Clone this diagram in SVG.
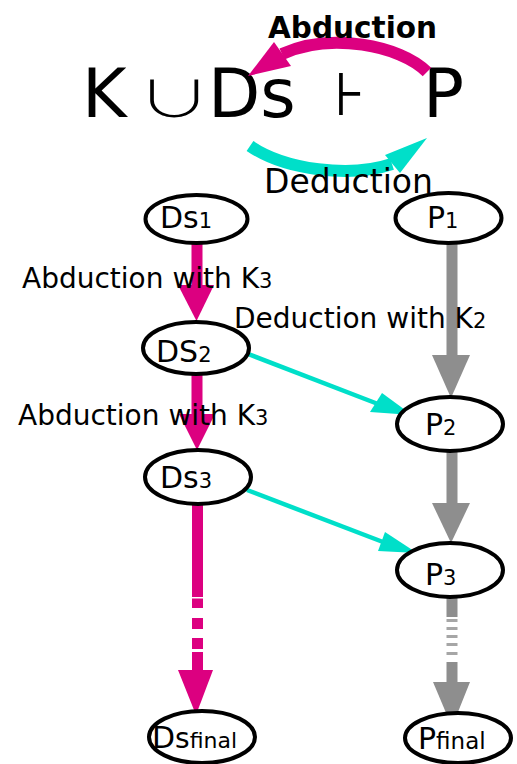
<svg xmlns="http://www.w3.org/2000/svg" width="517" height="764" viewBox="0 0 517 764">
<style>
text{font-family:"DejaVu Sans","Liberation Sans",sans-serif;fill:#000}
.big{font-size:68px}
.lbl{font-size:28px}
.sub{font-size:21px}
.nd{font-size:30px}
.node ellipse{fill:#fff;stroke:#000;stroke-width:4}
.mag{fill:#DC0080}
.magS{fill:none;stroke:#DC0080;stroke-width:12}
.cyan{fill:#00DFC9}
.cyanS{fill:none;stroke:#00DFC9;stroke-width:12}
.cyanL{fill:none;stroke:#00DFC9;stroke-width:4.5}
.gray{fill:#8E8E8E}
.grayL{fill:#A6A6A6}
</style>
<rect width="517" height="764" fill="#fff"/>
<g id="formula">
<text class="big" x="82" y="117">K</text>
<text x="0" y="0" transform="translate(137,117) scale(1.2,0.8)" style="font-family:'Noto Sans CJK JP','Noto Sans CJK SC',sans-serif;font-size:62px;font-weight:300">∪</text>
<text class="big" x="208" y="117">Ds</text>
<text x="334" y="115" style="font-size:60px">⊦</text>
<text class="big" x="423" y="117">P</text>
</g>
<g id="connectors">
<path class="magS" d="M427,72 C400,45 330,32 282,54"/>
<polygon class="mag" points="248,76 274,42 291,66"/>
<path class="cyanS" d="M250,146 C285,170 350,178 392,164"/>
<polygon class="cyan" points="427,138 385,155 400,173"/>
<rect class="mag" x="191.5" y="243" width="11" height="44"/>
<polygon class="mag" points="178,285 214,285 196.5,321"/>
<rect class="mag" x="191.5" y="374" width="11" height="42"/>
<polygon class="mag" points="179,414 215,414 197,450"/>
<rect class="mag" x="192" y="505" width="11" height="92"/>
<rect class="mag" x="192" y="598.5" width="11" height="9.5"/>
<rect class="mag" x="192" y="618" width="11" height="11"/>
<rect class="mag" x="192" y="638" width="11" height="11"/>
<rect class="mag" x="192" y="652" width="11" height="20"/>
<polygon class="mag" points="178,670 213,670 196,715"/>
<rect class="gray" x="446.5" y="243" width="11" height="114"/>
<polygon class="gray" points="432,355 470,355 451,398"/>
<rect class="gray" x="446.5" y="451" width="11" height="54"/>
<polygon class="gray" points="432,503 470,503 451,543"/>
<rect class="gray" x="446.5" y="596" width="11" height="21"/>
<rect class="grayL" x="446.5" y="619" width="11" height="3"/>
<rect class="grayL" x="446.5" y="627" width="11" height="3"/>
<rect class="grayL" x="446.5" y="635" width="11" height="3"/>
<rect class="grayL" x="446.5" y="643" width="11" height="3"/>
<rect class="grayL" x="446.5" y="652" width="11" height="3"/>
<rect class="gray" x="446.5" y="662" width="11" height="22"/>
<polygon class="gray" points="433,682 470,682 452,727"/>
<path class="cyanL" d="M243,352 L378,404"/>
<polygon class="cyan" points="412,415 382,393 370,412"/>
<path class="cyanL" d="M247,490 L383,542"/>
<polygon class="cyan" points="417,553 385,532 378,551"/>
</g>
<g id="labels">
<text x="268" y="38" style="font-size:29.5px;font-weight:bold">Abduction</text>
<text x="264" y="193" style="font-size:33px">Deduction</text>
<text class="lbl" x="22" y="288">Abduction with K<tspan class="sub">3</tspan></text>
<text class="lbl" x="234" y="328">Deduction with K<tspan class="sub">2</tspan></text>
<text class="lbl" x="18" y="425">Abduction with K<tspan class="sub">3</tspan></text>
</g>
<g id="Ds1" class="node"><ellipse cx="196.5" cy="219" rx="51" ry="24"/><text class="nd" x="160" y="228">Ds<tspan class="sub">1</tspan></text></g>
<g id="P1" class="node"><ellipse cx="448.5" cy="218" rx="53" ry="25"/><text class="nd" x="427" y="228">P<tspan class="sub">1</tspan></text></g>
<g id="Ds2" class="node"><ellipse cx="196" cy="348" rx="53" ry="26"/><text class="nd" x="156" y="362">DS<tspan class="sub">2</tspan></text></g>
<g id="P2" class="node"><ellipse cx="450" cy="424" rx="53" ry="27"/><text class="nd" x="425" y="435">P<tspan class="sub">2</tspan></text></g>
<g id="Ds3" class="node"><ellipse cx="198" cy="477" rx="53" ry="27"/><text class="nd" x="160" y="488">Ds<tspan class="sub">3</tspan></text></g>
<g id="P3" class="node"><ellipse cx="450" cy="570" rx="53" ry="27"/><text class="nd" x="425" y="585">P<tspan class="sub">3</tspan></text></g>
<g id="Dsfinal" class="node"><ellipse cx="202" cy="737" rx="53" ry="26"/><text class="nd" x="152" y="748">D<tspan style="font-size:28px">s</tspan><tspan style="font-size:22px">final</tspan></text></g>
<g id="Pfinal" class="node"><ellipse cx="458" cy="738" rx="53" ry="25"/><text class="nd" x="418" y="749">P<tspan style="font-size:23px">final</tspan></text></g>
</svg>
